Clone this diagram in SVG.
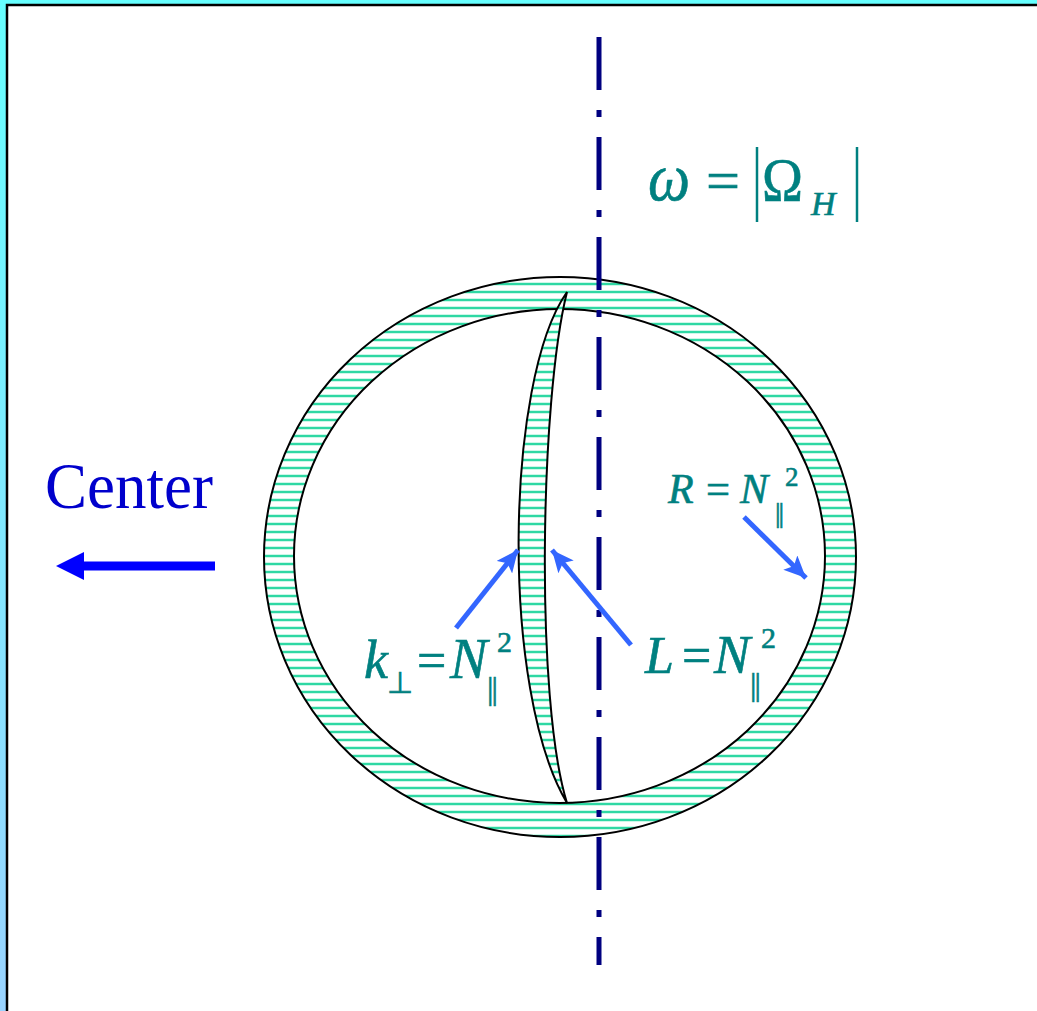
<svg xmlns="http://www.w3.org/2000/svg" width="1037" height="1011" viewBox="0 0 1037 1011">
<defs>
<linearGradient id="bg" x1="0" y1="0" x2="0" y2="1">
<stop offset="0" stop-color="#66FFFF"/>
<stop offset="1" stop-color="#99D3FF"/>
</linearGradient>
<pattern id="hatch" patternUnits="userSpaceOnUse" x="0" y="0" width="8" height="8">
<rect x="0" y="0" width="8" height="8" fill="#FFFFFF"/>
<rect x="0" y="2.5" width="8" height="3" fill="#9CEFD2"/>
<rect x="0" y="3" width="8" height="2" fill="#2FD8A4"/>
</pattern>
<marker id="bluehead" markerUnits="userSpaceOnUse" markerWidth="24" markerHeight="20" refX="22" refY="10" orient="auto">
<path d="M0,0 L22,10 L0,20 L5,10 Z" fill="#3366FF"/>
</marker>
<style>
.math{font-family:"Liberation Serif","Times New Roman",serif;fill:#008080;stroke:#008080;stroke-width:0.6;}
.it{font-style:italic;}
.outline{stroke:#000000;stroke-width:2;}
.ptr{stroke:#3366FF;stroke-width:5;fill:none;marker-end:url(#bluehead);}
.bar{stroke:#008080;stroke-width:2.5;}
</style>
</defs>
<rect x="0" y="0" width="1037" height="1011" fill="url(#bg)"/>
<rect x="7" y="5" width="1040" height="1020" fill="#FFFFFF" stroke="#000000" stroke-width="2.5"/>

<g id="ring">
<path class="outline" fill="url(#hatch)" fill-rule="evenodd" d="M264,557 A296,280 0 1,0 856,557 A296,280 0 1,0 264,557 Z M294,556 A265.5,247 0 1,0 825,556 A265.5,247 0 1,0 294,556 Z"/>
</g>
<g id="crescent">
<path class="outline" fill="url(#hatch)" d="M567,292 C505,380 500,690 567,803 C535,700 540,400 567,292 Z"/>
</g>
<g id="axis">
<line x1="599" y1="37" x2="599" y2="965" stroke="#000080" stroke-width="5" stroke-dasharray="53 20 7 20"/>
</g>

<g id="label-omega">
<text class="math it" x="648" y="200" font-size="68" textLength="42" lengthAdjust="spacingAndGlyphs">ω</text>
<text class="math" x="706" y="200" font-size="58" textLength="34" lengthAdjust="spacingAndGlyphs">=</text>
<line class="bar" x1="757" y1="147" x2="757" y2="222"/>
<text class="math" x="762" y="200" font-size="62" textLength="41" lengthAdjust="spacingAndGlyphs">Ω</text>
<text class="math it" x="811" y="215" font-size="34">H</text>
<line class="bar" x1="857" y1="147" x2="857" y2="222"/>
</g>

<g id="label-R">
<text class="math it" x="668" y="503" font-size="42">R</text>
<text class="math" x="706" y="503" font-size="42" textLength="24" lengthAdjust="spacingAndGlyphs">=</text>
<text class="math it" x="740" y="503" font-size="42">N</text>
<text class="math" x="775" y="522" font-size="28" letter-spacing="-2">||</text>
<text class="math" x="785" y="486" font-size="27">2</text>
</g>

<g id="label-k">
<text class="math it" x="364" y="678" font-size="54">k</text>
<text class="math" x="387" y="693" font-size="30">⊥</text>
<text class="math" x="417" y="678" font-size="52">=</text>
<text class="math it" x="450" y="678" font-size="56">N</text>
<text class="math" x="487" y="699" font-size="32" letter-spacing="-2">||</text>
<text class="math" x="497" y="652" font-size="30">2</text>
</g>

<g id="label-L">
<text class="math it" x="645" y="673" font-size="52">L</text>
<text class="math" x="682" y="673" font-size="52">=</text>
<text class="math it" x="714" y="673" font-size="54">N</text>
<text class="math" x="750" y="695" font-size="32" letter-spacing="-2">||</text>
<text class="math" x="761" y="648" font-size="30">2</text>
</g>

<g id="label-center">
<text x="45" y="508" font-family="Liberation Serif, 'Times New Roman', serif" font-size="66" fill="#0000CC" textLength="168" lengthAdjust="spacingAndGlyphs">Center</text>
</g>

<g id="connectors">
<line class="ptr" x1="744" y1="517" x2="806" y2="578"/>
<line class="ptr" x1="456" y1="628" x2="518" y2="550"/>
<line class="ptr" x1="631" y1="645" x2="552" y2="550"/>
<line x1="215" y1="566" x2="80" y2="566" stroke="#0000FF" stroke-width="9"/>
<path d="M56,566 L84,552 L84,580 Z" fill="#0000FF"/>
</g>
</svg>
